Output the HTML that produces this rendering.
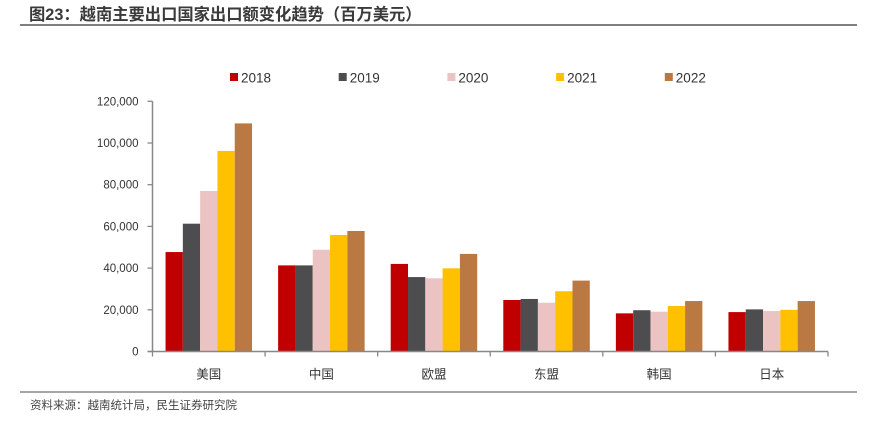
<!DOCTYPE html>
<html><head><meta charset="utf-8"><style>
body{margin:0;background:#fff;width:877px;height:435px;overflow:hidden;font-family:"Liberation Sans","Noto Sans CJK SC",sans-serif;}
svg text{font-family:"Liberation Sans","Noto Sans CJK SC",sans-serif;}
</style></head><body>
<svg id="chart" width="877" height="435" xmlns="http://www.w3.org/2000/svg">
<text x="29" y="20" font-size="16.3" font-weight="bold" fill="#3a3a3a">图23：越南主要出口国家出口额变化趋势（百万美元）</text>
<line x1="20" y1="25" x2="857" y2="25" stroke="#555" stroke-width="1.5"/>
<line x1="20" y1="392" x2="857" y2="392" stroke="#888" stroke-width="1.5"/>
<text x="30" y="409" font-size="11.5" fill="#444">资料来源：越南统计局，民生证券研究院</text>
<g id="legend"></g>
<g id="plot"></g>
</svg>
<script>
const categories=["美国","中国","欧盟","东盟","韩国","日本"];
const seriesNames=["2018","2019","2020","2021","2022"];
const s2018=[47700,41300,42000,24700,18300,18900];
const s2019=[61300,41300,35700,25200,19800,20200];
const s2020=[77000,48800,35100,23400,19100,19400];
const s2021=[96200,55900,39900,28900,21800,20000];
const s2022=[109400,57800,46800,34000,24200,24200];
const yTicks=[0,20000,40000,60000,80000,100000,120000];
const yTickLabels=["0","20,000","40,000","60,000","80,000","100,000","120,000"];
const series=[s2018,s2019,s2020,s2021,s2022];
const colors=["#C00000","#4D4D4F","#EBC3C3","#FFC000","#BA7843"];
const NS="http://www.w3.org/2000/svg";
const x0=152.5,x1=828,y0=351.5,yMax=120000,yTop=101.3;
const yScale=v=>y0-(v/yMax)*(y0-yTop);
const gw=(x1-x0)/categories.length, bw=17.3, pad=(gw-bw*5)/2;
const plot=document.getElementById('plot');
function mk(tag,attrs,parent){const e=document.createElementNS(NS,tag);for(const k in attrs)e.setAttribute(k,attrs[k]);parent.appendChild(e);return e;}
yTicks.forEach((t,i)=>{
  const y=yScale(t);
  const tk=mk('line',{x1:x0-5,x2:x0,y1:y,y2:y,stroke:'#888','stroke-width':1.3},plot);
  
  
  const lb=mk('text',{x:x0-14,y:y+4,'font-size':11.5,fill:'#333','text-anchor':'end'},plot);
  lb.textContent=yTickLabels[i];
  
  
});
const ya=mk('line',{x1:x0,x2:x0,y1:yTop,y2:y0,stroke:'#888','stroke-width':1.5},plot);


categories.forEach((c,ci)=>{
  const gx=x0+ci*gw;
  series.forEach((s,si)=>{
    const y=yScale(s[ci]);
    const r=mk('rect',{x:gx+pad+si*bw,y:y,width:bw,height:y0-y,fill:colors[si]},plot);
    
    
  });
  const lb=mk('text',{x:gx+gw/2,y:y0+27,'font-size':12.5,fill:'#333','text-anchor':'middle'},plot);
  lb.textContent=c;
  
  
});
for(let i=0;i<=categories.length;i++){
  const x=x0+i*gw;
  const t=mk('line',{x1:x,x2:x,y1:y0,y2:y0+5,stroke:'#888','stroke-width':1.3},plot);
  
  
}
const xa=mk('line',{x1:x0-5,x2:x1,y1:y0,y2:y0,stroke:'#888','stroke-width':1.5},plot);


const legend=document.getElementById('legend');
seriesNames.forEach((n,i)=>{
  const lx=230+i*108.7;
  const sq=mk('rect',{x:lx,y:73,width:8,height:8,fill:colors[i]},legend);
  
  
  const t=mk('text',{x:lx+11,y:82.5,'font-size':13.5,fill:'#333'},legend);
  t.textContent=n;
  
  
});
</script>
</body></html>
